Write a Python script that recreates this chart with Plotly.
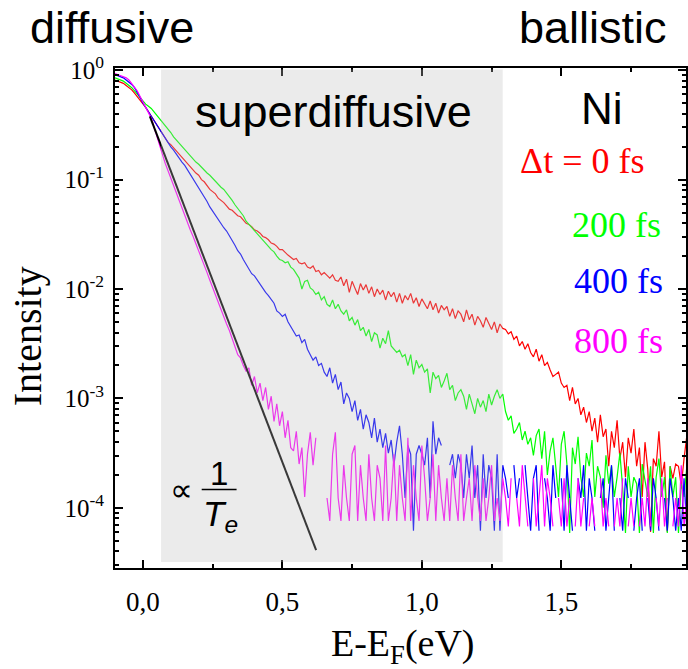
import plotly.graph_objects as go

# Energy channels E-E_F (eV), 0.01 eV steps from -0.10 to 1.95
energy = [round(-0.10 + 0.01 * i, 2) for i in range(206)]

# log10(Intensity), one value per channel (None = no counts)
red_log = [
    -0.09, -0.10, -0.11, -0.12, -0.14, -0.16, -0.18, -0.21, -0.24, -0.27,
    -0.30, -0.34, -0.38, -0.42, -0.46, -0.51, -0.55, -0.59, -0.62, -0.66,
    -0.68, -0.71, -0.74, -0.77, -0.79, -0.83, -0.85, -0.88, -0.91, -0.94,
    -0.96, -1.00, -1.02, -1.06, -1.09, -1.11, -1.13, -1.17, -1.19, -1.21,
    -1.24, -1.27, -1.28, -1.31, -1.33, -1.34, -1.37, -1.40, -1.41, -1.43,
    -1.46, -1.47, -1.49, -1.52, -1.53, -1.55, -1.58, -1.59, -1.61, -1.64,
    -1.64, -1.67, -1.69, -1.71, -1.73, -1.72, -1.76, -1.77, -1.76, -1.80,
    -1.81, -1.79, -1.84, -1.83, -1.87, -1.85, -1.88, -1.90, -1.87, -1.92,
    -1.93, -1.89, -1.97, -1.91, -2.03, -1.93, -1.99, -2.05, -1.95, -2.01,
    -1.96, -2.04, -1.98, -2.07, -2.00, -2.05, -2.01, -2.10, -2.02, -2.07,
    -2.03, -2.12, -2.04, -2.13, -2.06, -2.10, -2.04, -2.13, -2.08, -2.16,
    -2.09, -2.14, -2.18, -2.11, -2.19, -2.13, -2.22, -2.15, -2.19, -2.16,
    -2.25, -2.18, -2.27, -2.20, -2.23, -2.30, -2.19, -2.28, -2.23, -2.33,
    -2.25, -2.29, -2.35, -2.26, -2.31, -2.37, -2.30, -2.40, -2.32, -2.36,
    -2.37, -2.41, -2.39, -2.46, -2.43, -2.52, -2.48, -2.55, -2.50, -2.58,
    -2.62, -2.55, -2.66, -2.60, -2.70, -2.67, -2.74, -2.80, -2.78, -2.76,
    -2.86, -2.90, -2.88, -3.02, -2.90, -3.05, -3.00, -3.15, -3.08, -3.22,
    -3.12, -3.30, -3.18, -3.40, -3.15, -3.35, -3.28, -3.62, -3.30, -3.45,
    -3.20, -3.55, -3.40, -3.72, -3.36, -3.50, -3.28, -3.62, -3.45, -3.90,
    -3.40, -3.65, -4.22, -3.55, -3.62, -3.30, -3.72, -3.58, -4.22, -3.62,
    -3.73, -3.60, -3.62, -3.80, -3.55, -3.34,
]

green_log = [
    -0.07, -0.08, -0.09, -0.10, -0.12, -0.14, -0.16, -0.19, -0.22, -0.26,
    -0.29, -0.31, -0.33, -0.35, -0.38, -0.41, -0.44, -0.47, -0.51, -0.54,
    -0.57, -0.61, -0.64, -0.67, -0.70, -0.73, -0.76, -0.79, -0.82, -0.84,
    -0.86, -0.89, -0.91, -0.94, -0.96, -0.99, -1.02, -1.04, -1.07, -1.09,
    -1.12, -1.15, -1.19, -1.23, -1.26, -1.30, -1.33, -1.38, -1.41, -1.44,
    -1.47, -1.50, -1.53, -1.56, -1.59, -1.61, -1.64, -1.66, -1.70, -1.73,
    -1.74, -1.76, -1.75, -1.80, -1.82, -1.86, -1.90, -2.00, -1.93, -1.92,
    -1.99, -2.01, -2.05, -2.03, -2.10, -2.07, -2.14, -2.16, -2.10, -2.18,
    -2.14, -2.20, -2.23, -2.19, -2.29, -2.26, -2.33, -2.28, -2.38, -2.35,
    -2.43, -2.37, -2.48, -2.40, -2.42, -2.54, -2.45, -2.50, -2.38, -2.52,
    -2.55, -2.58, -2.56, -2.62, -2.60, -2.70, -2.60, -2.78, -2.65, -2.72,
    -2.69, -2.76, -2.73, -2.95, -2.76, -2.82, -2.79, -2.90, -2.84, -2.77,
    -2.92, -2.88, -3.02, -2.95, -2.92, -2.98, -3.10, -2.96, -3.05, -3.14,
    -3.00, -3.08, -3.02, -3.12, -2.96, -3.06, -2.98, -2.92, -3.00, -2.96,
    -3.12, -3.20, -3.16, -3.32, -3.28, -3.22, -3.38, -3.30, -3.42, -3.36,
    -3.52, -3.34, -3.28, -3.55, -3.30, -3.70, -3.48, -3.36, -3.62, -3.90,
    -3.42, -3.30, -3.60, -4.23, -3.45, -3.60, -3.35, -3.72, -3.90, -3.50,
    -3.62, -3.38, -3.90, -3.62, -3.72, -4.00, -3.52, -3.78, -3.62, -3.90,
    -3.72, -3.50, -3.82, -4.23, -3.62, -3.90, -3.72, -3.78, -4.23, -3.60,
    -3.75, -3.90, -3.62, -4.23, -3.72, -3.55, -3.90, -3.72, -4.23, -3.62,
    -3.90, -3.72, -4.23, -3.78, -3.90, -3.62,
]

blue_log = [
    -0.04, -0.05, -0.06, -0.07, -0.09, -0.11, -0.13, -0.16, -0.20, -0.25,
    -0.30, -0.34, -0.39, -0.42, -0.46, -0.51, -0.55, -0.59, -0.63, -0.66,
    -0.70, -0.73, -0.77, -0.80, -0.84, -0.87, -0.91, -0.95, -0.99, -1.04,
    -1.08, -1.12, -1.16, -1.20, -1.25, -1.29, -1.33, -1.37, -1.40, -1.44,
    -1.47, -1.51, -1.55, -1.60, -1.65, -1.68, -1.73, -1.77, -1.82, -1.86,
    -1.88, -1.92, -1.95, -1.99, -2.03, -2.06, -2.10, -2.13, -2.20, -2.22,
    -2.25, -2.23, -2.30, -2.34, -2.38, -2.43, -2.42, -2.49, -2.46, -2.55,
    -2.60, -2.65, -2.62, -2.70, -2.68, -2.76, -2.80, -2.72, -2.86, -2.78,
    -2.92, -2.85, -3.05, -2.95, -3.00, -3.12, -3.02, -3.20, -3.10, -3.28,
    -3.15, -3.22, -3.36, -3.18, -3.40, -3.28, -3.45, -3.32, -3.50, -3.38,
    -3.61, -3.40, -3.25, -3.51, -3.91, -3.43, -3.51, -4.21, -3.51, -3.43,
    -3.51, -3.61, -3.36, -3.91, -3.21, -3.51, -3.36, -3.43, None, None,
    -3.61, -3.51, -3.73, -3.51, -3.61, -3.91, -3.51, -3.73, -3.43, -3.91,
    -3.61, -4.21, -3.51, -3.91, -3.61, -3.73, -4.21, -3.51, -4.21, -3.61,
    -3.73, -3.91, None, -3.61, -3.91, -3.73, None, -3.61, -3.91, -4.21,
    -3.73, -3.61, -4.21, None, -3.73, -3.91, -4.21, -3.61, -3.91, None,
    -3.73, -4.21, -3.61, -3.91, -4.21, None, -3.73, -3.91, -3.61, -4.21,
    -3.73, -3.91, -4.21, None, -3.91, -3.73, -4.21, -3.91, -3.61, -4.21,
    None, -3.91, -4.21, -3.73, -3.91, None, -4.21, -3.91, -3.73, -4.21,
    None, -3.91, -4.21, -3.73, -3.91, -4.21, None, -3.91, -4.21, -3.73,
    -3.91, -4.21, -3.91, -4.21, -3.73, -4.21,
]

magenta_log = [
    -0.03, -0.04, -0.05, -0.06, -0.07, -0.09, -0.12, -0.15, -0.19, -0.24,
    -0.29, -0.34, -0.39, -0.44, -0.52, -0.61, -0.70, -0.77, -0.85, -0.92,
    -0.99, -1.06, -1.12, -1.19, -1.26, -1.32, -1.39, -1.46, -1.52, -1.59,
    -1.65, -1.72, -1.79, -1.85, -1.92, -1.99, -2.05, -2.12, -2.18, -2.25,
    -2.32, -2.38, -2.45, -2.52, -2.60, -2.63, -2.70, -2.75, -2.72, -2.88,
    -2.80, -2.95, -2.86, -3.02, -2.90, -3.10, -2.98, -3.21, -3.05, -3.25,
    -3.12, -3.36, -3.20, -3.45, -3.48, -3.30, -3.60, -3.45, -3.90, -3.51,
    -3.31, -3.61, -3.36, None, -3.43, None, -3.91, -4.12, -3.51, -3.31,
    -3.91, -4.12, -3.61, -3.91, -4.12, -3.51, -3.43, -4.12, -3.61, -3.91,
    -4.12, -3.51, -3.91, -4.12, -3.61, -3.73, -4.12, -3.43, -4.12, -3.91,
    -3.51, -4.12, -3.61, -3.91, -4.12, -3.36, -4.12, -3.61, -3.91, -4.12,
    -3.43, -3.73, -4.12, -3.91, -3.51, -4.12, -3.61, -3.91, -4.12, -3.73,
    -4.12, -3.61, -3.91, -4.12, -3.51, -4.12, -3.91, -3.73, -4.12, -3.61,
    -3.91, -4.12, -3.73, -4.12, -3.91, -3.61, -4.12, -3.91, -4.12, -3.73,
    -3.91, -4.17, -3.73, None, -3.91, -4.17, -3.61, -3.91, -4.17, None,
    -3.73, -4.17, -3.91, -3.61, -4.17, -3.73, -3.91, -4.17, None, -3.91,
    -4.17, -3.73, -4.17, -3.91, None, -4.17, -3.73, -4.17, -3.91, None,
    -4.17, -3.91, -4.17, None, -3.73, -4.17, -3.91, -4.17, None, -4.17,
    -3.91, -4.17, -3.73, None, -4.17, -3.91, -4.17, None, -4.17, -3.91,
    -4.17, -3.73, -4.17, None, -3.91, -4.17, -3.73, -4.17, -3.91, None,
    -4.17, -3.91, -4.17, -3.61, -4.17, -3.91,
]

# 1/T_e guide line (two end points)
te_energy = [0.025, 0.621]
te_intensity = [0.378, 4.1e-5]

# shaded superdiffusive window (eV)
window = [0.065, 1.29]

series_names = ["Δt = 0 fs", "200 fs", "400 fs", "800 fs"]
series_colors = ["#ff0000", "#00ff00", "#0000ff", "#ff00ff"]
series_logs = [red_log, green_log, blue_log, magenta_log]

ytick_vals = [1, 0.1, 0.01, 0.001, 0.0001]
ytick_text = ["10<sup>0</sup>", "10<sup>-1</sup>", "10<sup>-2</sup>",
              "10<sup>-3</sup>", "10<sup>-4</sup>"]
minor_yvals = [k * 10.0 ** e for e in range(-5, 0) for k in range(2, 10)]

SANS = "Liberation Sans, Arial, sans-serif"
SERIF = "Liberation Serif, Times New Roman, serif"

fig = go.Figure()
for name, col, logs in zip(series_names, series_colors, series_logs):
    fig.add_trace(go.Scatter(
        x=energy, y=[None if v is None else 10 ** v for v in logs],
        mode="lines", name=name, line=dict(color=col, width=1.2),
        connectgaps=False, showlegend=False))

fig.add_trace(go.Scatter(x=te_energy, y=te_intensity, mode="lines",
                         line=dict(color="black", width=2), showlegend=False))

# grey window (drawn above, semi-transparent like the original)
fig.add_shape(type="rect", xref="x", yref="y domain", x0=window[0], x1=window[1],
              y0=0.012, y1=0.997, fillcolor="rgba(190,190,190,0.30)",
              line=dict(width=0), layer="above")

L, T, W, H = 115, 68, 573, 500


def px(xp):
    return (xp - L) / W


def py(yp):
    return (T + H - yp) / H


def ann(text, xp, yp, size, color="black", family=SANS, xanchor="center", **kw):
    fig.add_annotation(text=text, x=px(xp), y=py(yp), xref="paper", yref="paper",
                       showarrow=False, xanchor=xanchor, yanchor="middle",
                       font=dict(size=size, color=color, family=family), **kw)


ann("diffusive", 28, 28, 45, xanchor="left")
ann("ballistic", 671, 28, 45, xanchor="right")
ann("superdiffusive", 193, 112, 45, xanchor="left")
ann("Ni", 604, 109, 44)
ann(series_names[0], 584, 161, 36, color=series_colors[0], family=SERIF)
ann(series_names[1], 618, 225, 36, color=series_colors[1], family=SERIF)
ann(series_names[2], 620, 281, 36, color=series_colors[2], family=SERIF)
ann(series_names[3], 620, 341, 36, color=series_colors[3], family=SERIF)

ann("∝", 182, 490, 32)
ann("1", 219, 473, 33)
ann("<i>T<sub>e</sub></i>", 221, 516, 35)
fig.add_shape(type="line", xref="paper", yref="paper", x0=px(202), x1=px(237),
              y0=py(489.5), y1=py(489.5), line=dict(color="black", width=1.5))

ann("E-E<sub>F</sub>(eV)", 404, 646, 38, family=SERIF)
ann("Intensity", 27, 336, 40, family=SERIF, textangle=-90)

fig.update_layout(
    width=688, height=669,
    margin=dict(l=L, r=0, t=T, b=669 - T - H),
    plot_bgcolor="white", paper_bgcolor="white",
    separators=", ",
    showlegend=False,
)
fig.update_xaxes(
    range=[-0.1, 1.947], showgrid=False, zeroline=False,
    showline=True, linecolor="black", linewidth=2, mirror="ticks",
    ticks="inside", ticklen=8, tickwidth=1.5, tickcolor="black",
    tick0=0, dtick=0.5, tickformat=".1f", ticklabelstandoff=9,
    tickfont=dict(family=SERIF, size=27, color="black"),
    minor=dict(ticks="inside", ticklen=4, tickwidth=1.5, tickcolor="black",
               tick0=0, dtick=0.25, showgrid=False),
)
fig.update_yaxes(
    type="log", range=[-4.55, 0.02], showgrid=False, zeroline=False,
    showline=True, linecolor="black", linewidth=2, mirror="ticks",
    ticks="inside", ticklen=8, tickwidth=1.5, tickcolor="black",
    tickvals=ytick_vals, ticktext=ytick_text, ticklabelstandoff=4,
    tickfont=dict(family=SERIF, size=25, color="black"),
    minor=dict(ticks="inside", ticklen=4, tickwidth=1.5, tickcolor="black",
               tickvals=minor_yvals, showgrid=False),
)

fig.write_html("out.html", config={"displayModeBar": False},
               post_script="document.body.style.margin='0px';"
                           "document.body.style.overflow='hidden';")
